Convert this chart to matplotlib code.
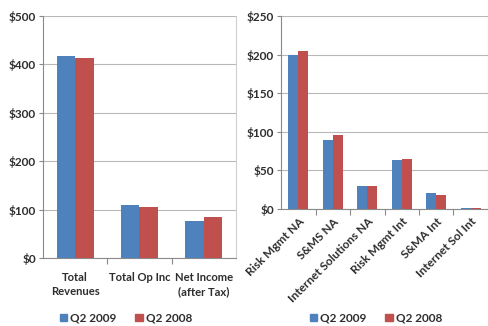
import matplotlib.pyplot as plt
from matplotlib.patches import Patch
from matplotlib.ticker import FuncFormatter

# Consolidated results ($M)
summary_cats = ["Total\nRevenues", "Total Op Inc", "Net Income\n(after Tax)"]
summary_q2_2009 = [417, 109, 77]
summary_q2_2008 = [413, 105, 84]

# Segment results ($M)
segment_cats = ["Risk Mgmt NA", "S&MS NA", "Internet Solutions NA",
                "Risk Mgmt Int", "S&MA Int", "Internet Sol Int"]
segment_q2_2009 = [200, 89, 30, 64, 21, 1]
segment_q2_2008 = [205, 96, 30, 65, 18, 1]

series_labels = ["Q2 2009", "Q2 2008"]
BLUE = "#4f81bd"
RED = "#c0504d"
TXT = "#2e2e2e"
FS = 8.5

plt.rcParams['font.family'] = ['Lato', 'DejaVu Sans']
plt.rcParams['font.weight'] = 'bold'

W, H = 489, 326
fig = plt.figure(figsize=(W / 100, H / 100), dpi=100)


def px_axes(left, top, right, bottom):
    return fig.add_axes([left / W, 1 - bottom / H, (right - left) / W, (bottom - top) / H])


def style_axes(ax, ymax, step, ncat):
    ax.set_xlim(-0.5, ncat - 0.5)
    ax.set_ylim(0, ymax)
    ax.set_yticks(range(0, ymax + 1, step))
    ax.yaxis.set_major_formatter(FuncFormatter(lambda v, p: f"${v:.0f}"))
    ax.grid(axis='y', color='#b8b8b8', linewidth=0.8)
    ax.set_axisbelow(True)
    ax.spines['left'].set_color('#8a8a8a')
    ax.spines['bottom'].set_color('#8a8a8a')
    ax.spines['top'].set_visible(False)
    ax.spines['right'].set_color('#d0d0d0')
    ax.tick_params(axis='y', length=3, color='#8a8a8a', labelsize=FS,
                   labelcolor=TXT, pad=2)
    # ticks between categories, labels at centres
    ax.set_xticks([i + 0.5 for i in range(ncat - 1)], minor=False)
    ax.set_xticklabels([])
    ax.tick_params(axis='x', which='major', length=4, color='#8a8a8a')
    ax.set_xticks(range(ncat), minor=True)
    ax.tick_params(axis='x', which='minor', length=0, labelsize=FS,
                   labelcolor=TXT)


def draw_bars(ax, a, b):
    w = 0.29
    x = range(len(a))
    ax.bar([i - w / 2 for i in x], a, width=w, color=BLUE, zorder=3)
    ax.bar([i + w / 2 for i in x], b, width=w, color=RED, zorder=3)


def add_legend(ax, cx, cy):
    handles = [Patch(color=BLUE), Patch(color=RED)]
    ax.legend(handles, series_labels, ncol=2, frameon=False,
              loc='center', bbox_to_anchor=(cx / W, 1 - cy / H),
              bbox_transform=fig.transFigure, fontsize=FS,
              handlelength=0.6, handleheight=0.6, handletextpad=0.3,
              columnspacing=1.6, labelcolor=TXT)


# left panel
ax1 = px_axes(43, 16, 236, 258)
draw_bars(ax1, summary_q2_2009, summary_q2_2008)
style_axes(ax1, 500, 100, len(summary_cats))
ax1.set_xticklabels(summary_cats, minor=True, linespacing=1.35)
ax1.tick_params(axis='x', which='minor', pad=10, labelsize=8.1)
add_legend(ax1, 126, 318)

# right panel
ax2 = px_axes(281, 16, 488, 209)
draw_bars(ax2, segment_q2_2009, segment_q2_2008)
style_axes(ax2, 250, 50, len(segment_cats))
ax2.set_xticklabels(segment_cats, minor=True, rotation=45, ha='right',
                    rotation_mode='anchor')
ax2.tick_params(axis='x', which='minor', pad=5)
add_legend(ax2, 376, 318)

fig.savefig("out.png", dpi=100)
